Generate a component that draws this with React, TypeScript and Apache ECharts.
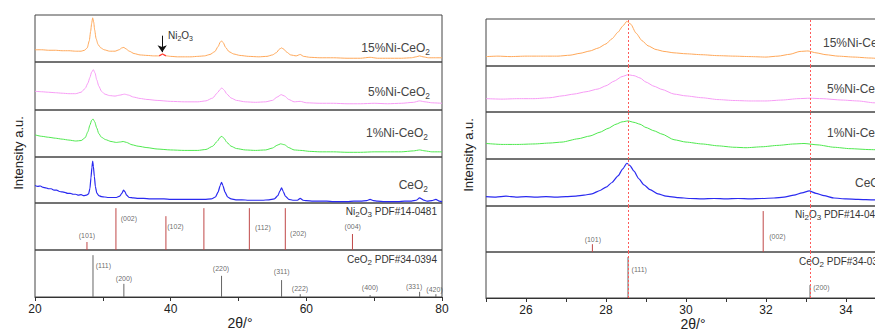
import React, { useEffect, useRef } from 'react';
import * as echarts from 'echarts';

// ---------------- data ----------------
const sampleNames = ['15%Ni-CeO', '5%Ni-CeO', '1%Ni-CeO', 'CeO'];
const sampleColors = ['#ffa85a', '#f79cf5', '#4fe84f', '#2a2af0'];

// wide scan 20-80 (intensity normalised 0-100 inside each strip)
const s15Wide = [[20,26],[21,26],[22,25],[23,25],[24,24],[25,24],[26,23],[26.8,23],[27.3,25],[27.7,30],[28.0,45],[28.2,65],[28.35,82],[28.5,94],[28.65,85],[28.8,68],[29.0,50],[29.3,37],[29.7,30],[30.2,26],[31,23],[31.8,23],[32.4,26],[32.8,30],[33.1,31],[33.4,28],[33.9,23],[34.6,18],[35.5,15],[36.5,14],[37.5,13],[38.2,13],[38.8,17],[39.4,13],[40,12],[41,11],[42,11],[43,11],[44,12],[45,13],[45.8,16],[46.5,22],[47.0,33],[47.3,42],[47.5,45],[47.75,41],[48.1,31],[48.6,22],[49.3,17],[50.2,14],[51.5,12],[53,11],[54.2,12],[55,15],[55.6,20],[56.0,27],[56.35,30],[56.7,27],[57.1,21],[57.7,15],[58.5,13],[59.1,16],[59.6,12],[60.5,10],[62,9],[64,9],[66,8],[68,8],[69.4,10],[70.5,8],[72,8],[74,8],[75.5,9],[76.2,11],[76.7,13],[77.2,11],[78,9],[79,9],[80,9]];
const ni2o3Bump = [[38.3,13],[38.55,15],[38.8,17],[39.05,15],[39.3,13]];
const s5Wide = [[20,39],[21,38],[22,37],[23,36],[24,35],[25,34],[26,34],[26.8,37],[27.4,45],[27.8,56],[28.1,68],[28.35,79],[28.6,84],[28.85,77],[29.1,63],[29.4,50],[29.8,39],[30.3,33],[31,30],[31.8,29],[32.5,31],[33.2,33],[33.8,31],[34.5,27],[35.5,24],[36.5,22],[38,20],[40,18],[42,17],[44,17],[45.2,19],[46.2,25],[46.9,36],[47.3,43],[47.55,46],[47.85,42],[48.3,33],[48.9,25],[49.7,20],[51,17],[52.5,16],[54,17],[55,20],[55.7,27],[56.3,32],[56.8,29],[57.4,22],[58.2,17],[59.1,18],[60,15],[62,14],[64,14],[66,13],[68,13],[70,14],[72,13],[74,14],[75.8,16],[76.7,19],[77.5,17],[78.5,15],[80,14]];
const s1Wide = [[20,47],[21,44],[22,42],[23,40],[24,38],[25,36],[26,34],[26.8,35],[27.4,41],[27.8,54],[28.1,68],[28.35,78],[28.55,81],[28.8,75],[29.1,62],[29.4,50],[29.8,42],[30.4,37],[31.2,33],[32,31],[32.6,32],[33.0,33],[33.5,31],[34.3,26],[35.2,23],[36.5,20],[38,17],[40,15],[42,14],[44,14],[45.2,16],[46.2,23],[46.9,34],[47.3,42],[47.55,44],[47.85,40],[48.3,31],[48.9,23],[49.7,18],[51,15],[52.5,14],[54,15],[55,19],[55.7,25],[56.2,28],[56.8,26],[57.4,20],[58.2,15],[59.2,14],[60.5,12],[62,11],[64,11],[66,10],[68,10],[70,11],[72,11],[74,11],[75.8,13],[76.7,15],[77.5,13],[78.5,11],[80,11]];
const sCeWide = [[20,38],[20.4,36],[20.8,37],[21.2,34],[21.6,33],[22,31],[22.4,31],[22.8,28],[23.2,28],[23.6,25],[24,24],[24.4,23],[24.8,21],[25.2,21],[25.6,19],[26,19],[26.4,17],[26.8,18],[27.2,16],[27.6,17],[27.9,20],[28.1,32],[28.25,55],[28.4,78],[28.5,91],[28.6,80],[28.75,58],[28.9,36],[29.1,22],[29.4,16],[29.8,14],[30.3,13],[30.8,12],[31.4,12],[32,12],[32.5,15],[32.8,21],[33.05,28],[33.25,25],[33.5,17],[33.9,12],[34.5,11],[35.2,10],[36,10],[37,9],[38,9],[39,9],[40,8],[41,8],[42,8],[43,8],[44,8],[45,8],[46,9],[46.6,13],[47.0,24],[47.3,38],[47.5,45],[47.7,38],[48.0,24],[48.4,13],[48.9,9],[49.6,7],[50.5,7],[51.5,6],[52.5,6],[53.5,6],[54.5,7],[55.3,9],[55.8,16],[56.1,26],[56.35,33],[56.6,25],[56.9,15],[57.4,8],[58,6],[58.7,6],[59.1,10],[59.5,6],[60,5],[61,4],[62,4],[63,4],[64,3],[65,3],[66,3],[67,4],[68,4],[68.9,5],[69.4,8],[69.9,5],[70.5,4],[71.5,3],[72.5,3],[73.5,3],[74.5,4],[75.5,4],[76.2,6],[76.7,11],[77.2,7],[77.8,4],[78.5,5],[79.1,8],[79.6,4],[80,3]];

// narrow scan 25-36
const s15Narrow = [[25,20],[25.3,21],[25.6,20],[26,21],[26.4,21],[26.8,21],[27.1,23],[27.35,27],[27.6,32],[27.8,38],[28.0,47],[28.15,58],[28.3,72],[28.42,85],[28.52,95],[28.62,89],[28.75,70],[28.9,54],[29.05,43],[29.25,35],[29.45,31],[29.7,28],[30,26],[30.4,24],[30.8,22],[31.2,21],[31.6,20],[32,19],[32.3,21],[32.6,25],[32.85,31],[33.05,32],[33.25,28],[33.5,24],[33.8,21],[34.2,19],[34.6,17],[35,15],[35.5,13],[36,12]];
const s5Narrow = [[25,29],[25.4,28],[25.8,29],[26.2,29],[26.6,31],[26.9,35],[27.2,39],[27.5,44],[27.8,50],[28.0,57],[28.2,67],[28.4,77],[28.55,81],[28.7,79],[28.85,74],[29.0,65],[29.2,56],[29.4,49],[29.7,39],[30.0,35],[30.4,31],[30.8,27],[31.2,25],[31.6,24],[32,24],[32.4,26],[32.8,29],[33.1,30],[33.4,29],[33.9,26],[34.3,24],[34.7,20],[35.1,18],[35.5,17],[36,16]];
const s1Narrow = [[25,33],[25.4,31],[25.8,31],[26.2,32],[26.6,34],[26.9,36],[27.3,43],[27.6,49],[27.85,57],[28.05,65],[28.25,74],[28.4,79],[28.55,81],[28.7,78],[28.85,74],[29.0,67],[29.2,60],[29.4,53],[29.7,41],[30.0,36],[30.4,32],[30.8,28],[31.2,25],[31.5,24],[31.9,26],[32.3,29],[32.7,32],[32.95,33],[33.3,30],[33.7,25],[34.1,22],[34.6,20],[35.0,19],[35.5,18],[36,17]];
const sCeNarrow = [[25,20],[25.25,19],[25.5,21],[25.75,19],[26,20],[26.25,19],[26.5,20],[26.75,19],[27,20],[27.25,21],[27.45,23],[27.65,26],[27.85,33],[28.0,40],[28.15,50],[28.3,64],[28.42,79],[28.52,91],[28.6,86],[28.7,74],[28.82,58],[28.95,45],[29.1,35],[29.3,26],[29.5,21],[29.8,18],[30.1,16],[30.4,15],[30.7,16],[31,15],[31.3,16],[31.6,15],[31.9,16],[32.2,17],[32.45,19],[32.7,23],[32.9,28],[33.08,32],[33.25,27],[33.45,22],[33.7,17],[34,15],[34.3,14],[34.7,13],[35,13],[35.5,12],[36,12]];

// reference stick patterns [2theta, relative height]
const ni2o3Sticks = [[27.66,17],[31.93,89],[39.3,72],[44.9,89],[51.6,89],[56.9,89],[66.8,34]];
const ni2o3Hkl = ['(101)','(002)','(102)','','(112)','(202)','(004)'];
const ceo2Sticks = [[28.55,89],[33.1,28],[47.5,45],[56.35,36],[59.1,6],[69.4,4],[76.7,11],[79.1,6]];
const ceo2Hkl = ['(111)','(200)','(220)','(311)','(222)','(400)','(331)','(420)'];

const markerLines = [28.55, 33.1];
const wideTicks = [20, 40, 60, 80];
const narrowTicks = [26, 28, 30, 32, 34];

// ---------------- layout (annotations) ----------------
const FONT = 'Liberation Sans, Arial, sans-serif';
const LEFT = { x0: 35, x1: 442, tops: [15, 62, 110, 157, 203, 250, 297], min: 20, max: 80, interval: 10 };
const RIGHT = { x0: 486, x1: 926, tops: [19, 66, 112, 159, 206, 252, 298], min: 25, max: 36, interval: 1 };

// hkl label anchors in data coords: [2theta, v, align]
const niLabelWide: any[] = [[27.66,30,'center'],[32.63,66,'left'],[39.5,49,'left'],null,[52.43,47,'left'],[57.6,36,'left'],[66.84,49,'center']];
const ceLabelWide: any[] = [[28.95,68,'left'],[33.12,40,'center'],[47.42,60,'center'],[56.37,54,'center'],[59.07,19,'center'],[69.39,21,'center'],[75.88,23,'center'],[78.9,17,'center']];
const niLabelNarrow: any[] = [[27.67,28,'center'],[32.08,33,'left'],null,null,null,null,null];
const ceLabelNarrow: any[] = [[28.64,61,'left'],[33.18,22,'left'],null,null,null,null,null,null];

function richName(main: string, sub: string, size = 12) {
  return {
    text: `{m|${main}}{s|${sub}}`,
    rich: {
      m: { fontSize: size, fontFamily: FONT, fill: '#444', lineHeight: size + 4, verticalAlign: 'middle' },
      s: { fontSize: size * 0.7, fontFamily: FONT, fill: '#444', lineHeight: size + 4, verticalAlign: 'bottom' },
    },
  };
}
function richPdf(text: string, size = 10) {
  const parts = text.startsWith('Ni')
    ? `{m|Ni}{s|2}{m|O}{s|3}{m| ${text.split(' ')[1]}}`
    : `{m|CeO}{s|2}{m| ${text.split(' ')[1]}}`;
  return {
    text: parts,
    rich: {
      m: { fontSize: size, fontFamily: FONT, fill: '#333', lineHeight: size + 5, verticalAlign: 'middle' },
      s: { fontSize: size * 0.8, fontFamily: FONT, fill: '#333', lineHeight: size + 5, verticalAlign: 'bottom' },
    },
  };
}

export default function App() {
  const ref = useRef<HTMLDivElement>(null);
  useEffect(() => {
    if (!ref.current) return;
    const chart = echarts.init(ref.current, null, { renderer: 'svg' });
    const grids: any[] = [];
    const xAxes: any[] = [];
    const yAxes: any[] = [];
    const series: any[] = [];

    const panels = [
      { P: LEFT, spectra: [s15Wide, s5Wide, s1Wide, sCeWide], niLab: niLabelWide, ceLab: ceLabelWide, ticks: wideTicks, narrow: false },
      { P: RIGHT, spectra: [s15Narrow, s5Narrow, s1Narrow, sCeNarrow], niLab: niLabelNarrow, ceLab: ceLabelNarrow, ticks: narrowTicks, narrow: true },
    ];

    panels.forEach((pan) => {
      const P = pan.P;
      for (let r = 0; r < 6; r++) {
        const idx = grids.length;
        grids.push({
          left: P.x0, top: P.tops[r], width: P.x1 - P.x0, height: P.tops[r + 1] - P.tops[r],
          show: true, borderColor: '#444', borderWidth: 1, backgroundColor: 'transparent',
        });
        const bottom = r === 5;
        xAxes.push({
          type: 'value', gridIndex: idx, min: P.min, max: P.max, interval: P.interval,
          show: bottom,
          axisLine: { show: true, lineStyle: { color: '#333', width: 1 } },
          axisTick: { show: true, length: 4, lineStyle: { color: '#333' } },
          splitLine: { show: false },
          axisLabel: {
            show: bottom, margin: 6, fontSize: 12, color: '#222', fontFamily: FONT,
            formatter: (v: number) => (pan.ticks.indexOf(v) >= 0 ? String(v) : ''),
          },
        });
        yAxes.push({ type: 'value', gridIndex: idx, min: 0, max: 100, show: false });

        if (r < 4) {
          series.push({
            type: 'line', xAxisIndex: idx, yAxisIndex: idx, data: pan.spectra[r], symbol: 'none',
            silent: true, smooth: 0.2, smoothMonotone: 'x',
            lineStyle: { color: sampleColors[r], width: r === 3 ? 1.2 : 1 },
          });
          if (!pan.narrow && r === 0) {
            series.push({
              type: 'line', xAxisIndex: idx, yAxisIndex: idx, data: ni2o3Bump, symbol: 'none',
              silent: true, smooth: 0.2, lineStyle: { color: '#ff3b3b', width: 1.2 }, z: 4,
              markLine: {
                symbol: ['none', 'arrow'], symbolSize: 7, silent: true, label: { show: false },
                lineStyle: { color: '#111', width: 1, type: 'solid' },
                data: [[{ coord: [38.75, 56] }, { coord: [38.75, 21] }]],
              },
            });
          }
        } else {
          const isNi = r === 4;
          const sticks = isNi ? ni2o3Sticks : ceo2Sticks;
          const hkl = isNi ? ni2o3Hkl : ceo2Hkl;
          const lab = isNi ? pan.niLab : pan.ceLab;
          const color = isNi ? '#c04848' : '#666666';
          const inRange = sticks.filter((d) => d[0] >= P.min && d[0] <= P.max);
          series.push({
            type: 'custom', xAxisIndex: idx, yAxisIndex: idx, silent: true, data: inRange,
            renderItem: (params: any, api: any) => {
              const a = api.coord([api.value(0), 0]);
              const b = api.coord([api.value(0), api.value(1)]);
              return { type: 'line', shape: { x1: a[0], y1: a[1], x2: b[0], y2: b[1] }, style: { stroke: color, lineWidth: 1 } };
            },
          });
          const labData: any[] = [];
          lab.forEach((l: any, i: number) => {
            if (l && hkl[i]) {
              labData.push({ value: [l[0], l[1]], name: hkl[i], label: { align: l[2] } });
            }
          });
          series.push({
            type: 'scatter', xAxisIndex: idx, yAxisIndex: idx, silent: true, data: labData,
            symbolSize: 1, itemStyle: { color: 'rgba(0,0,0,0)' }, z: 6,
            label: {
              show: true, position: 'inside', formatter: '{b}', color: '#444',
              fontSize: 7, fontFamily: FONT, verticalAlign: 'middle',
            },
          });
        }
        if (pan.narrow) {
          series.push({
            type: 'line', xAxisIndex: idx, yAxisIndex: idx, data: [[25, -10]], symbol: 'none',
            silent: true, lineStyle: { opacity: 0 }, z: 5,
            markLine: {
              symbol: 'none', silent: true, label: { show: false },
              lineStyle: { color: '#ff5a5a', type: [2, 2], width: 1 },
              data: markerLines.map((v) => ({ xAxis: v })),
            },
          });
        }
      }
    });

    const txt = (x: number, y: number, content: any, align: string) => ({
      type: 'text', x, y, silent: true,
      style: { ...content, align, verticalAlign: 'middle', textAlign: align, textVerticalAlign: 'middle' },
    });
    const plain = (x: number, y: number, text: string, size: number, rot = 0) => ({
      type: 'text', x, y, rotation: rot, silent: true,
      style: { text, fontSize: size, fontFamily: FONT, fill: '#222', align: 'center', verticalAlign: 'middle', textAlign: 'center', textVerticalAlign: 'middle' },
    });

    const graphic: any[] = [
      txt(430, 48, richName(sampleNames[0], '2'), 'right'),
      txt(430, 92, richName(sampleNames[1], '2'), 'right'),
      txt(428, 133, richName(sampleNames[2], '2'), 'right'),
      txt(428, 185, richName(sampleNames[3], '2'), 'right'),
      txt(437, 211, richPdf('Ni2O3 PDF#14-0481'), 'right'),
      txt(437, 259, richPdf('CeO2 PDF#34-0394'), 'right'),
      txt(823, 43, richName(sampleNames[0], '2'), 'left'),
      txt(827, 89, richName(sampleNames[1], '2'), 'left'),
      txt(827, 133, richName(sampleNames[2], '2'), 'left'),
      txt(855, 183, richName(sampleNames[3], '2'), 'left'),
      txt(795, 214, richPdf('Ni2O3 PDF#14-0481'), 'left'),
      txt(799, 261, richPdf('CeO2 PDF#34-0394'), 'left'),
      txt(168, 35, {
        text: '{m|Ni}{s|2}{m|O}{s|3}',
        rich: {
          m: { fontSize: 10, fontFamily: FONT, fill: '#333', lineHeight: 14, verticalAlign: 'middle' },
          s: { fontSize: 7, fontFamily: FONT, fill: '#333', lineHeight: 14, verticalAlign: 'bottom' },
        },
      }, 'left'),
      plain(18, 153, 'Intensity a.u.', 13, Math.PI / 2),
      plain(468, 155, 'Intensity a.u.', 13, Math.PI / 2),
      plain(240, 323, '2θ/°', 14),
      plain(693, 324, '2θ/°', 14),
    ];

    chart.setOption({
      animation: false,
      backgroundColor: '#ffffff',
      grid: grids,
      xAxis: xAxes,
      yAxis: yAxes,
      series,
      graphic,
    });
    return () => chart.dispose();
  }, []);
  return (
    <div style={{ position: 'absolute', left: 0, top: 0, width: 875, height: 331, overflow: 'hidden' }}>
      <div ref={ref} style={{ position: 'absolute', left: 0, top: 0, width: 940, height: 331 }} />
    </div>
  );
}
